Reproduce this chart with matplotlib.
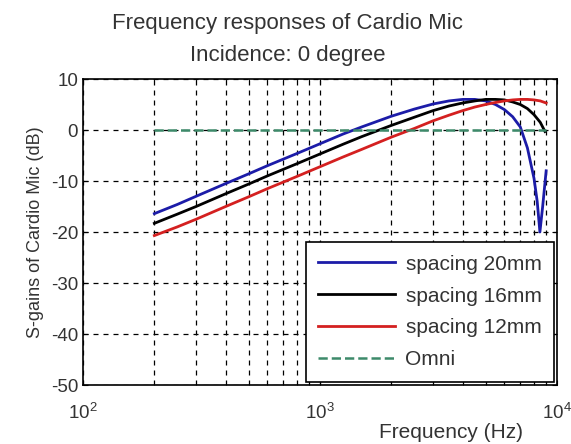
import matplotlib.pyplot as plt

plt.rcParams['font.family'] = ['Liberation Sans', 'DejaVu Sans']
plt.rcParams['axes.unicode_minus'] = False

# Frequencies (Hz) where the curves were read
freq = [200, 250, 300, 400, 500, 600, 800, 1000, 1250, 1500, 2000, 2500, 3000,
        3500, 4000, 4500, 5000, 5500, 6000, 6500, 7000, 7500, 8000]

# spacing 20mm (with the notch near 8.5 kHz)
freq20 = freq + [8250, 8470, 8700, 9000]
gain20 = [-16.4, -14.6, -13.0, -10.5, -8.6, -7.0, -4.6, -2.7, -0.8, 0.6, 2.7, 4.1, 5.1,
          5.7, 6.0, 6.0, 5.7, 5.0, 4.0, 2.6, 0.6, -3.5, -9.5,
          -14.0, -20.0, -15.0, -8.0]

# spacing 16mm
freq16 = freq + [8500, 8900]
gain16 = [-18.3, -16.5, -15.0, -12.5, -10.6, -9.0, -6.6, -4.7, -2.8, -1.3, 0.9, 2.5, 3.8,
          4.7, 5.3, 5.7, 6.0, 6.0, 5.9, 5.5, 5.0, 4.2, 3.0,
          1.5, -0.3]

# spacing 12mm
freq12 = freq + [8500, 9000]
gain12 = [-20.7, -19.0, -17.5, -15.0, -13.1, -11.5, -9.1, -7.2, -5.3, -3.8, -1.4, 0.3, 1.8,
          2.9, 3.8, 4.5, 5.0, 5.4, 5.7, 5.9, 6.0, 6.0, 5.9,
          5.7, 5.3]

# omni reference
freq_omni = [200, 9000]
gain_omni = [0, 0]

fig = plt.figure(figsize=(5.71, 4.44), dpi=100)
ax = fig.add_axes([83/571, 1-385/444, 474/571, 306/444])

ax.semilogx(freq20, gain20, color='#1c1ca8', lw=2, label='spacing 20mm')
ax.semilogx(freq16, gain16, color='black', lw=2, label='spacing 16mm')
ax.semilogx(freq12, gain12, color='#d42020', lw=2, label='spacing 12mm')
ax.semilogx(freq_omni, gain_omni, '--', color='#3d8a6a', lw=1.8, label='Omni')

ax.set_xlim(100, 10000)
ax.set_ylim(-50, 10)
ax.set_yticks(range(-50, 11, 10))

ax.grid(True, which='major', color='black', linestyle=(0, (4, 4)), lw=0.9)
ax.grid(True, which='minor', axis='x', color='black', linestyle=(0, (4, 4)), lw=0.9)
ax.tick_params(which='both', direction='in', top=True, right=True, labelsize=13.5,
               labelcolor='#333333')
ax.tick_params(axis='x', pad=13)
for s in ax.spines.values():
    s.set_linewidth(1.2)

# title centred on the figure, like the original
fig.text(288/571, 1-13/444, 'Frequency responses of Cardio Mic\nIncidence: 0 degree',
         ha='center', va='top', fontsize=16, color='#333333', linespacing=1.7)
ax.set_ylabel('S-gains of Cardio Mic (dB)', fontsize=13, color='#333333', labelpad=5)
ax.set_xlabel('Frequency (Hz)', fontsize=15, color='#333333')
ax.xaxis.set_label_coords(0.776, -0.125)

leg = ax.legend(loc='lower right', fontsize=15, fancybox=False, framealpha=1,
                edgecolor='black', handlelength=3.7, handletextpad=0.5,
                borderaxespad=0.15, labelspacing=0.62, borderpad=0.6)
leg.get_frame().set_linewidth(1.2)
for t in leg.get_texts():
    t.set_color('#333333')

fig.savefig('out.png', dpi=100)
